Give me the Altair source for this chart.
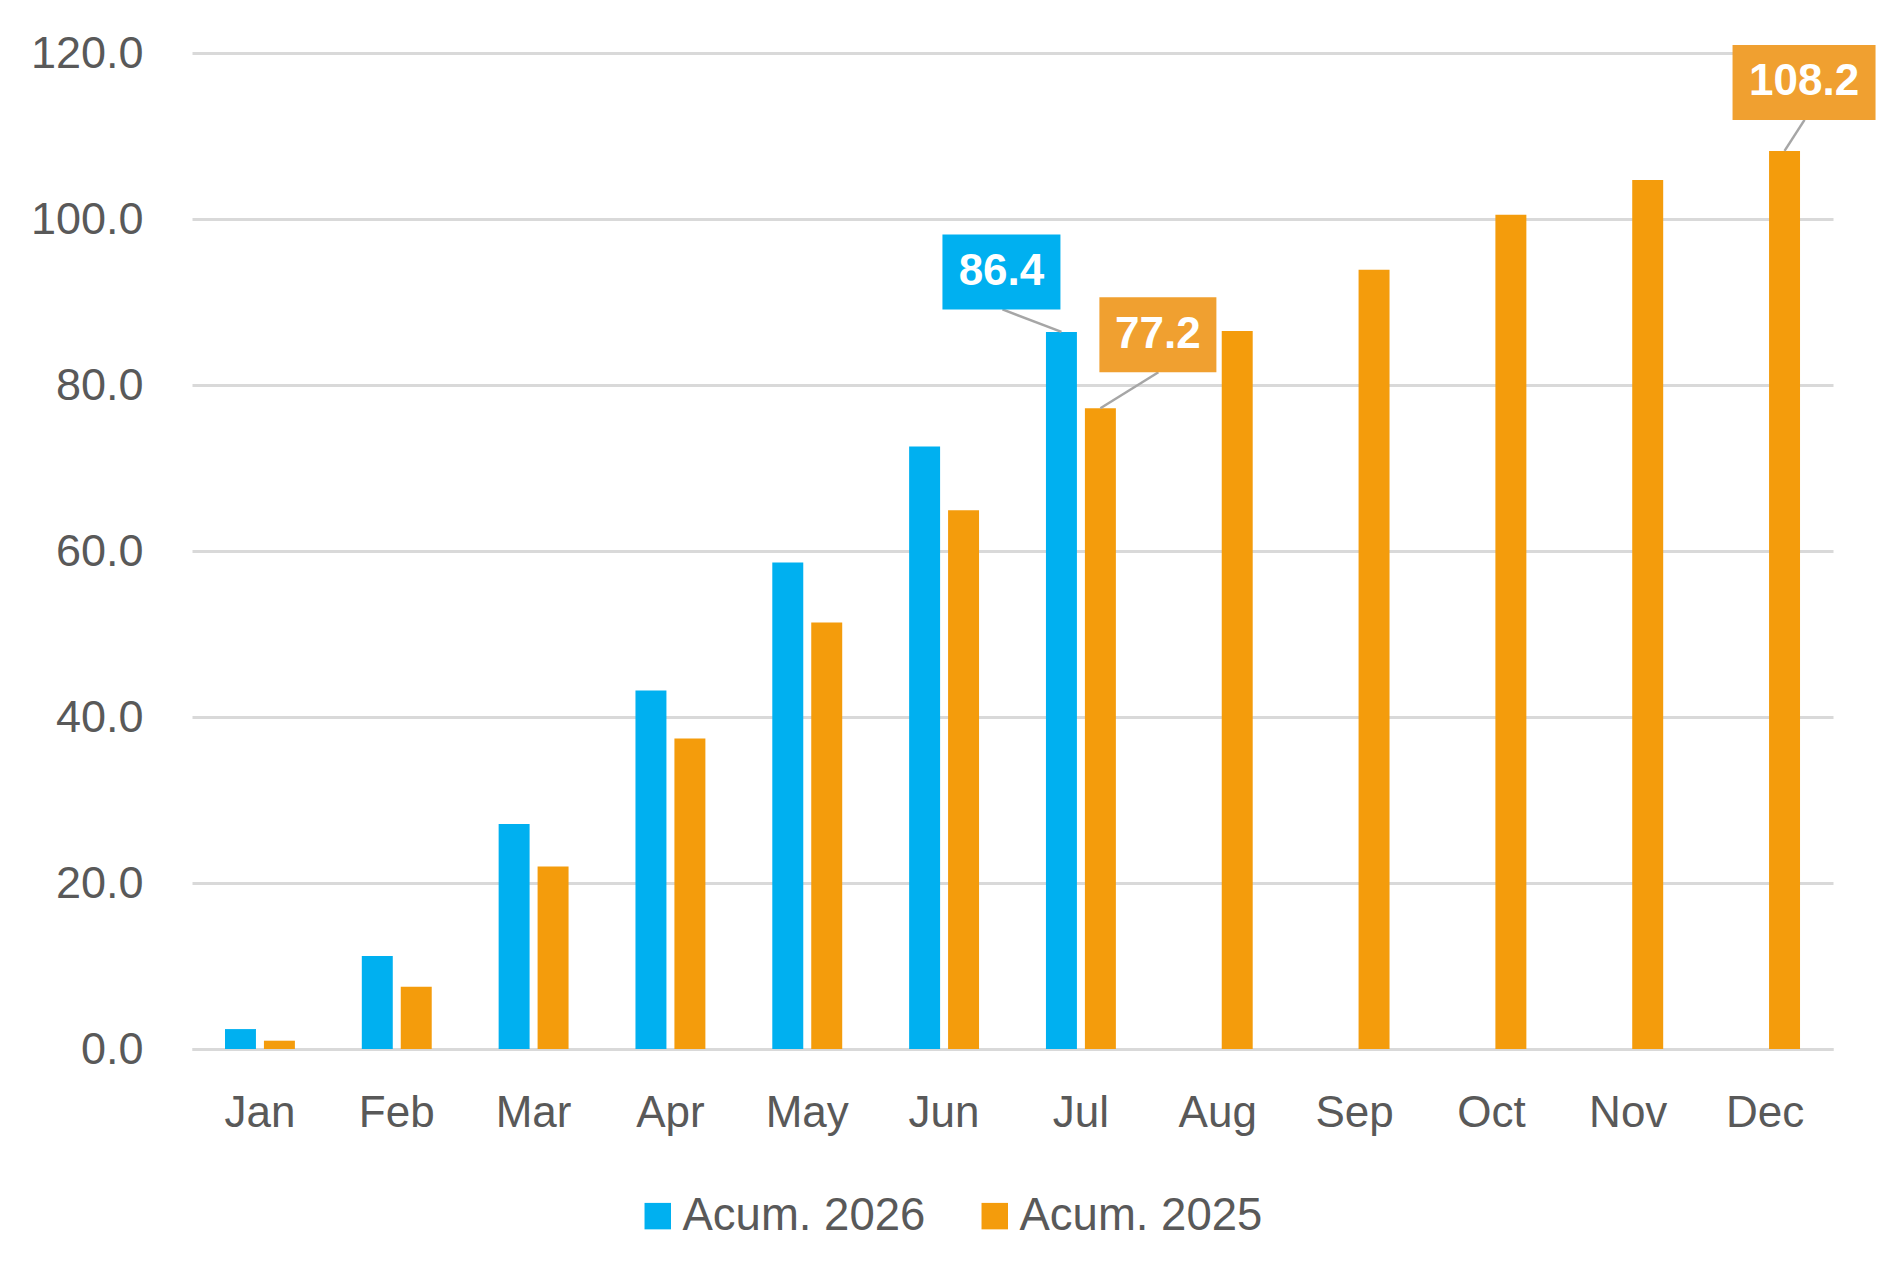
import altair as alt
import pandas as pd

months = ["Jan", "Feb", "Mar", "Apr", "May", "Jun", "Jul", "Aug", "Sep", "Oct", "Nov", "Dec"]
acum_2026 = [2.4, 11.2, 27.1, 43.2, 58.6, 72.6, 86.4, None, None, None, None, None]
acum_2025 = [1.0, 7.5, 22.0, 37.4, 51.4, 64.9, 77.2, 86.5, 93.9, 100.5, 104.7, 108.2]
series = ["Acum. 2026", "Acum. 2025"]
y_ticks = [0, 20, 40, 60, 80, 100, 120]

rows = []
for m, a, b in zip(months, acum_2026, acum_2025):
    if a is not None:
        rows.append({"month": m, "series": series[0], "value": a})
    if b is not None:
        rows.append({"month": m, "series": series[1], "value": b})
df = pd.DataFrame(rows)

BLUE = "#00B0F0"
ORANGE = "#F49C0C"
ORANGE_BOX = "#F0A030"
GRAY_TEXT = "#595959"
FONT = "Liberation Sans"

x_enc = alt.X("month:N", sort=months, title=None,
              scale=alt.Scale(paddingInner=0.489, paddingOuter=0.241),
              axis=alt.Axis(labelAngle=0, labelFontSize=44, labelColor=GRAY_TEXT,
                            labelFont=FONT, labelPadding=42, ticks=False,
                            domainColor="#D9D9D9", domainWidth=3))
xo_enc = alt.XOffset("series:N", sort=series,
                     scale=alt.Scale(domain=series, paddingInner=0.205, paddingOuter=0))
y_enc = alt.Y("value:Q", title=None,
              scale=alt.Scale(domain=[0, 120], nice=False),
              axis=alt.Axis(values=y_ticks, format=".1f", labelFontSize=45,
                            labelColor=GRAY_TEXT, labelFont=FONT, labelPadding=49,
                            ticks=False, domain=False, gridColor="#D9D9D9",
                            gridWidth=3))

bars = alt.Chart(df).mark_bar().encode(
    x=x_enc,
    xOffset=xo_enc,
    y=y_enc,
    color=alt.Color("series:N", sort=series,
                    scale=alt.Scale(domain=series, range=[BLUE, ORANGE]),
                    legend=alt.Legend(title=None, orient="none", direction="horizontal",
                                      legendX=443, legendY=1140,
                                      symbolType="square", symbolSize=700,
                                      symbolStrokeWidth=0, labelFontSize=45.5,
                                      labelFont=FONT, labelColor=GRAY_TEXT,
                                      labelLimit=0, labelOffset=2,
                                      columnPadding=46, padding=0)),
)

# Annotations: (month, series, box colour, box path relative to bar top, leader path, text centre)
annotations = [
    ("Jul", series[0], BLUE, "M-119,-97.5H-1V-22.5H-119Z", "M0,0L-59,-22.5", -60, -60),
    ("Jul", series[1], ORANGE_BOX, "M-1,-111H116V-36H-1Z", "M0,0L58,-36", 57.5, -73.5),
    ("Dec", series[1], ORANGE_BOX, "M-52,-106H91V-31H-52Z", "M0,0L20,-31", 19.5, -68.5),
]

layers = [bars]
for m, s, col, box_path, lead_path, tx, ty in annotations:
    sub = df[(df.month == m) & (df.series == s)].copy()
    sub["label"] = sub["value"].map(lambda v: f"{v:.1f}")
    base = alt.Chart(sub).encode(x=alt.X("month:N", sort=months),
                                 xOffset=alt.XOffset("series:N", sort=series),
                                 y=alt.Y("value:Q"))
    leader = base.mark_point(shape=lead_path, size=4, filled=False, stroke="#A6A6A6",
                             strokeWidth=2.5, opacity=1)
    box = base.mark_point(shape=box_path, size=4, filled=True, fill=col, opacity=1,
                          strokeWidth=0)
    text = base.mark_text(dx=tx, dy=ty, fontSize=44, fontWeight="bold", color="white",
                          font=FONT, align="center", baseline="middle").encode(text="label:N")
    layers += [leader, box, text]

chart = alt.layer(*layers).properties(
    width=1641, height=996,
    autosize=alt.AutoSizeParams(type="none"),
    padding={"left": 184, "top": 45, "right": 43, "bottom": 220},
).configure_view(stroke=None).configure_axis(gridColor="#D9D9D9")

chart.save("out.html", embed_options={"renderer": "svg", "actions": False})
